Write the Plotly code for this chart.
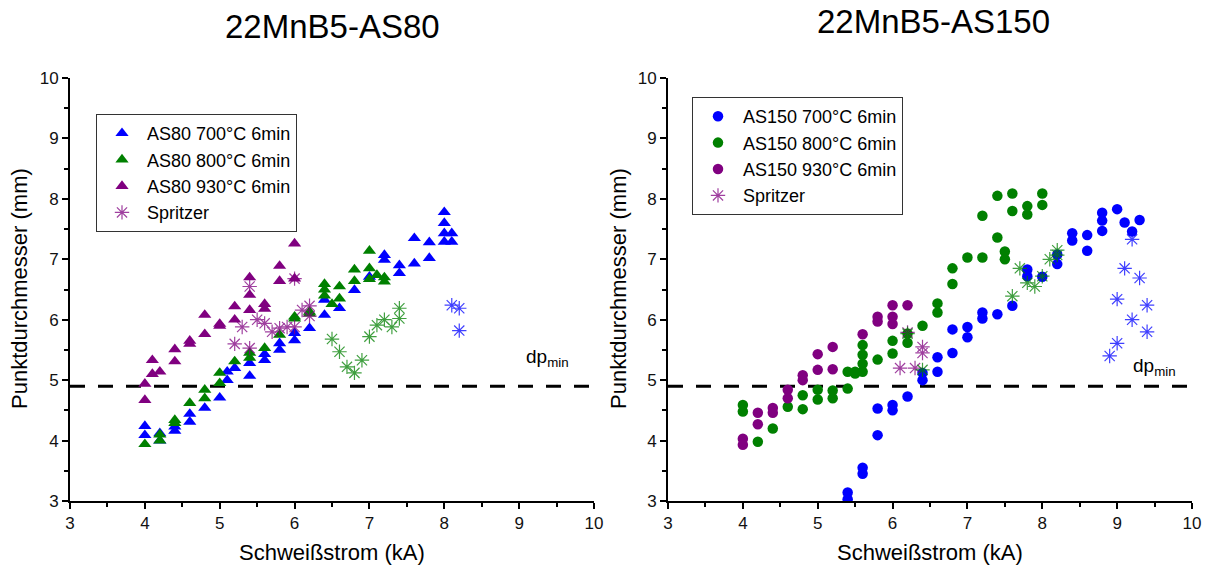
import plotly.graph_objects as go

W, H = 1212, 571
FONT = "Arial"
BLUE, GREEN, PURPLE = "#0000ff", "#008000", "#800080"

DP_MIN = 4.9  # minimum spot diameter (mm)

# ---------------- 22MnB5-AS80 ----------------
as80_700_x = [4.0, 4.0, 4.2, 4.2, 4.4, 4.4, 4.6, 4.6, 4.8, 5.0, 5.1, 5.1, 5.2, 5.4, 5.4,
              5.6, 5.6, 5.8, 5.8, 6.0, 6.0, 6.2, 6.4, 6.4, 6.6, 6.8, 7.0, 7.2, 7.2, 7.4,
              7.4, 7.6, 7.6, 7.8, 7.8, 8.0, 8.0, 8.0, 8.0, 8.1, 8.1]
as80_700_y = [4.09, 4.24, 4.00, 4.12, 4.16, 4.23, 4.31, 4.44, 4.54, 4.71, 5.00, 5.14, 5.20,
              5.07, 5.28, 5.33, 5.43, 5.50, 5.61, 5.66, 5.78, 5.86, 6.08, 6.33, 6.19, 6.49,
              6.71, 6.99, 7.07, 6.77, 6.90, 6.93, 7.35, 7.02, 7.28, 7.29, 7.43, 7.60, 7.78,
              7.29, 7.43]

as80_800_x = [4.0, 4.2, 4.2, 4.4, 4.4, 4.6, 4.8, 4.8, 5.0, 5.0, 5.2, 5.4, 5.4, 5.6, 5.8,
              6.0, 6.0, 6.2, 6.2, 6.4, 6.4, 6.4, 6.5, 6.6, 6.6, 6.8, 6.8, 7.0, 7.0, 7.0,
              7.1, 7.2, 7.2]
as80_800_y = [3.94, 4.00, 4.10, 4.29, 4.34, 4.62, 4.70, 4.84, 4.95, 5.12, 5.31, 5.37, 5.45,
              5.53, 5.75, 6.02, 6.05, 6.10, 6.13, 6.40, 6.50, 6.59, 6.26, 6.35, 6.55, 6.64,
              6.83, 6.67, 6.85, 7.14, 6.74, 6.63, 6.70]

as80_930_x = [4.0, 4.0, 4.1, 4.1, 4.2, 4.4, 4.4, 4.6, 4.6, 4.8, 4.8, 5.0, 5.0, 5.2, 5.2,
              5.4, 5.4, 5.4, 5.6, 5.6, 5.8, 5.8, 6.0, 6.0]
as80_930_y = [4.67, 4.94, 5.10, 5.33, 5.14, 5.31, 5.51, 5.60, 5.65, 5.76, 6.08, 5.90, 5.93,
              6.00, 6.22, 6.16, 6.41, 6.70, 6.18, 6.26, 6.64, 6.89, 6.68, 7.26]

as80_spr_930_x = [5.2, 5.3, 5.4, 5.4, 5.5, 5.6, 5.7, 5.8, 5.9, 6.0, 6.0, 6.1, 6.2, 6.2]
as80_spr_930_y = [5.60, 5.88, 5.53, 6.55, 6.00, 5.94, 5.80, 5.86, 5.88, 5.88, 6.68, 6.16, 6.23, 6.06]
as80_spr_800_x = [6.5, 6.6, 6.7, 6.8, 6.9, 7.0, 7.1, 7.2, 7.3, 7.4, 7.4]
as80_spr_800_y = [5.68, 5.47, 5.22, 5.12, 5.33, 5.72, 5.91, 6.00, 5.88, 6.02, 6.19]
as80_spr_700_x = [8.1, 8.2, 8.2]
as80_spr_700_y = [6.24, 6.19, 5.82]

# ---------------- 22MnB5-AS150 ----------------
as150_700_x = [5.4, 5.4, 5.6, 5.6, 5.8, 5.8, 6.0, 6.0, 6.2, 6.4, 6.4, 6.6, 6.6, 6.8, 6.8,
               7.0, 7.0, 7.2, 7.2, 7.4, 7.6, 7.8, 7.8, 8.0, 8.2, 8.2, 8.4, 8.4, 8.6, 8.6,
               8.8, 8.8, 8.8, 9.0, 9.1, 9.2, 9.3]
as150_700_y = [3.03, 3.14, 3.45, 3.55, 4.09, 4.53, 4.50, 4.59, 4.73, 5.00, 5.12, 5.14, 5.38,
               5.45, 5.84, 5.71, 5.88, 6.02, 6.12, 6.09, 6.23, 6.72, 6.83, 6.71, 6.92, 7.08,
               7.31, 7.43, 7.14, 7.40, 7.47, 7.64, 7.77, 7.83, 7.61, 7.46, 7.65]

as150_800_x = [4.0, 4.0, 4.2, 4.4, 4.6, 4.8, 4.8, 5.0, 5.0, 5.2, 5.2, 5.4, 5.4, 5.5, 5.5,
               5.6, 5.6, 5.6, 5.6, 5.8, 6.0, 6.0, 6.2, 6.2, 6.4, 6.6, 6.6, 6.8, 6.8, 7.0,
               7.2, 7.2, 7.4, 7.4, 7.5, 7.5, 7.6, 7.6, 7.8, 7.8, 8.0, 8.0]
as150_800_y = [4.48, 4.59, 3.98, 4.20, 4.56, 4.52, 4.75, 4.68, 4.84, 4.70, 4.83, 4.86, 5.14,
               5.11, 5.14, 5.14, 5.27, 5.42, 5.58, 5.34, 5.44, 5.65, 5.62, 5.77, 5.90, 6.12,
               6.27, 6.59, 6.85, 7.03, 7.03, 7.72, 7.36, 8.05, 7.00, 7.13, 7.80, 8.09, 7.74,
               7.88, 7.90, 8.09]

as150_930_x = [4.0, 4.0, 4.2, 4.2, 4.4, 4.4, 4.6, 4.6, 4.8, 4.8, 5.0, 5.0, 5.2, 5.2, 5.6,
               5.8, 5.8, 6.0, 6.0, 6.0, 6.2]
as150_930_y = [3.93, 4.03, 4.27, 4.46, 4.46, 4.54, 4.70, 4.84, 5.00, 5.08, 5.17, 5.43, 5.18,
               5.55, 5.76, 5.97, 6.05, 5.93, 6.05, 6.24, 6.24]

as150_spr_930_x = [6.1, 6.2, 6.3, 6.4, 6.4]
as150_spr_930_y = [5.20, 5.79, 5.20, 5.45, 5.55]
as150_spr_800_x = [6.2, 6.4, 7.6, 7.7, 7.8, 7.9, 8.0, 8.1, 8.2, 8.2]
as150_spr_800_y = [5.77, 5.17, 6.39, 6.85, 6.61, 6.55, 6.72, 7.00, 7.07, 7.15]
as150_spr_700_x = [8.9, 9.0, 9.0, 9.1, 9.2, 9.2, 9.3, 9.4, 9.4]
as150_spr_700_y = [5.40, 5.61, 6.34, 6.85, 6.00, 7.33, 6.69, 5.80, 6.24]

X_RANGE = [3, 10]
Y_RANGE = [3, 10]
X_TICKS = [3, 4, 5, 6, 7, 8, 9, 10]
Y_TICKS = [3, 4, 5, 6, 7, 8, 9, 10]


def px_x(p):
    return p / W


def px_y(p):
    return 1 - p / H


fig = go.Figure()


def points(x, y, name, color, symbol, size, xa, ya, legend, showlegend=True):
    fig.add_trace(go.Scatter(
        x=x, y=y, mode="markers", name=name, xaxis=xa, yaxis=ya,
        legend=legend, showlegend=showlegend,
        marker=dict(symbol=symbol, color=color, size=size, line=dict(width=0)),
    ))


def spritzer(x, y, color, xa, ya, legend, showlegend):
    fig.add_trace(go.Scatter(
        x=x, y=y, mode="markers", name="Spritzer", xaxis=xa, yaxis=ya,
        legend=legend, showlegend=showlegend, opacity=0.75,
        marker=dict(symbol="asterisk-open", color=color, size=12,
                    line=dict(width=1.2, color=color)),
    ))


def dp_line(xa, ya):
    fig.add_trace(go.Scatter(
        x=X_RANGE, y=[DP_MIN, DP_MIN], mode="lines", xaxis=xa, yaxis=ya,
        showlegend=False, hoverinfo="skip",
        line=dict(color="black", width=3, dash="15px,13px"),
    ))


# left panel
dp_line("x", "y")
points(as80_700_x, as80_700_y, "AS80 700°C 6min", BLUE, "triangle-up", 11.5, "x", "y", "legend")
points(as80_800_x, as80_800_y, "AS80 800°C 6min", GREEN, "triangle-up", 11.5, "x", "y", "legend")
points(as80_930_x, as80_930_y, "AS80 930°C 6min", PURPLE, "triangle-up", 11.5, "x", "y", "legend")
spritzer(as80_spr_930_x, as80_spr_930_y, PURPLE, "x", "y", "legend", True)
spritzer(as80_spr_800_x, as80_spr_800_y, GREEN, "x", "y", "legend", False)
spritzer(as80_spr_700_x, as80_spr_700_y, BLUE, "x", "y", "legend", False)

# right panel
dp_line("x2", "y2")
points(as150_700_x, as150_700_y, "AS150 700°C 6min", BLUE, "circle", 10.5, "x2", "y2", "legend2")
points(as150_800_x, as150_800_y, "AS150 800°C 6min", GREEN, "circle", 10.5, "x2", "y2", "legend2")
points(as150_930_x, as150_930_y, "AS150 930°C 6min", PURPLE, "circle", 10.5, "x2", "y2", "legend2")
spritzer(as150_spr_930_x, as150_spr_930_y, PURPLE, "x2", "y2", "legend2", True)
spritzer(as150_spr_800_x, as150_spr_800_y, GREEN, "x2", "y2", "legend2", False)
spritzer(as150_spr_700_x, as150_spr_700_y, BLUE, "x2", "y2", "legend2", False)

axis_style = dict(
    automargin=False,
    showline=True, linecolor="black", linewidth=2, mirror=False,
    showgrid=False, zeroline=False, ticks="outside", ticklen=6, tickwidth=1.5,
    tickcolor="black", tickfont=dict(family=FONT, size=17, color="#111111"),
    minor=dict(ticks="outside", ticklen=4, tickwidth=1.5, tickcolor="black", dtick=0.5),
)

y_dom = [px_y(501), px_y(78)]
legend_style = dict(xanchor="left", yanchor="top", bordercolor="#333333", borderwidth=1,
                    bgcolor="white", font=dict(family=FONT, size=18, color="black"),
                    itemwidth=40, tracegroupgap=0)
fig.update_layout(
    template="none",
    width=W, height=H,
    margin=dict(l=0, r=0, t=0, b=0, pad=0),
    paper_bgcolor="white", plot_bgcolor="white",
    font=dict(family=FONT, color="black"),
    xaxis=dict(domain=[px_x(70), px_x(594)], range=X_RANGE, tickvals=X_TICKS,
               anchor="y", **axis_style),
    yaxis=dict(domain=y_dom, range=Y_RANGE, tickvals=Y_TICKS, anchor="x", **axis_style),
    xaxis2=dict(domain=[px_x(668), px_x(1192)], range=X_RANGE, tickvals=X_TICKS,
                anchor="y2", **axis_style),
    yaxis2=dict(domain=y_dom, range=Y_RANGE, tickvals=Y_TICKS, anchor="x2", **axis_style),
    legend=dict(x=px_x(96), y=px_y(114), **legend_style),
    legend2=dict(x=px_x(692), y=px_y(97), **legend_style),
)

annotations = [
    dict(text="22MnB5-AS80", x=px_x(332), y=px_y(26), font=dict(size=33)),
    dict(text="22MnB5-AS150", x=px_x(933), y=px_y(22), font=dict(size=33)),
    dict(text="Schweißstrom (kA)", x=px_x(332), y=px_y(552), font=dict(size=22)),
    dict(text="Schweißstrom (kA)", x=px_x(930), y=px_y(552), font=dict(size=22)),
    dict(text="Punktdurchmesser (mm)", x=px_x(19), y=px_y(289), textangle=-90,
         font=dict(size=22)),
    dict(text="Punktdurchmesser (mm)", x=px_x(618), y=px_y(289), textangle=-90,
         font=dict(size=22)),
]
for a in annotations:
    a.update(xref="paper", yref="paper", showarrow=False, xanchor="center",
             yanchor="middle")
    a["font"].update(family=FONT, color="black")

# dp_min labels
annotations.append(dict(text="dp<sub>min</sub>", x=9.07, y=5.36, xref="x", yref="y",
                        showarrow=False, xanchor="left", yanchor="middle",
                        font=dict(family=FONT, size=19, color="black")))
annotations.append(dict(text="dp<sub>min</sub>", x=9.18, y=5.22, xref="x2", yref="y2",
                        showarrow=False, xanchor="left", yanchor="middle",
                        font=dict(family=FONT, size=19, color="black")))
fig.update_layout(annotations=annotations)

fig.write_html("out.html")
